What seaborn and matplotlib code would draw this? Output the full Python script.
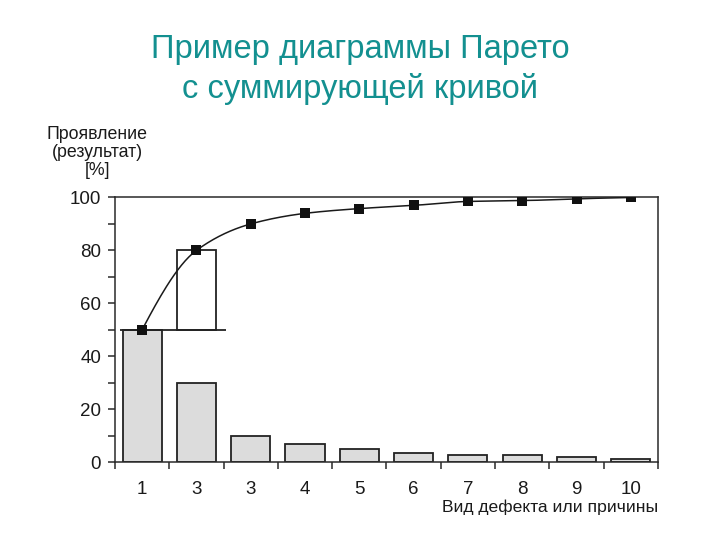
import numpy as np
import pandas as pd
import matplotlib
matplotlib.use("Agg")
import matplotlib.pyplot as plt
import seaborn as sns
from matplotlib.ticker import MultipleLocator, FixedLocator

# ---- data ----
tick_labels = ["1", "3", "3", "4", "5", "6", "7", "8", "9", "10"]
share = [50, 30, 10, 6.7, 4.9, 3.4, 2.7, 2.7, 2.0, 1.0]
cumulative = [50, 80, 90, 94, 95.8, 97, 98.5, 98.8, 99.5, 100]
y_ticks = [0, 20, 40, 60, 80, 100]

title = "Пример диаграммы Парето\nс суммирующей кривой"
ylabel = "Проявление\n(результат)\n[%]"
xlabel = "Вид дефекта или причины"

sns.set_theme(style="white")
plt.rcParams["font.family"] = ["Liberation Sans", "DejaVu Sans"]

fig = plt.figure(figsize=(7.2, 5.4), dpi=100)
ax = fig.add_axes([0.1597, 0.1444, 0.7542, 0.4899])

pos = list(range(len(share)))
df = pd.DataFrame({"pos": pos, "share": share, "cum": cumulative})

sns.barplot(data=df, x="pos", y="share", order=pos, color="#dcdcdc",
            saturation=1, width=0.72, edgecolor="#222222", linewidth=1.3, ax=ax)

# open box showing contribution of 2nd category on top of the 1st
ax.bar([1], [cumulative[1] - cumulative[0]], bottom=[cumulative[0]], width=0.72,
       color="white", edgecolor="#222222", linewidth=1.3, zorder=2)
ax.hlines(cumulative[0], -0.41, 1.55, color="#222222", linewidth=1.3, zorder=2)

# smooth cumulative curve (monotone cubic through the points, rendering only)
x = np.array(pos, dtype=float)
y = np.array(cumulative, dtype=float)
h = np.diff(x)
d = np.diff(y) / h
m = np.zeros_like(y)
m[0] = d[0] * 1.3
m[-1] = d[-1]
for i in range(1, len(y) - 1):
    if d[i - 1] * d[i] <= 0:
        m[i] = 0
    else:
        m[i] = 2 / (1 / d[i - 1] + 1 / d[i])
xs, ys = [], []
for i in range(len(x) - 1):
    t = np.linspace(0, 1, 30)
    h00 = 2 * t**3 - 3 * t**2 + 1
    h10 = t**3 - 2 * t**2 + t
    h01 = -2 * t**3 + 3 * t**2
    h11 = t**3 - t**2
    xs.extend(x[i] + t * h[i])
    ys.extend(h00 * y[i] + h10 * h[i] * m[i] + h01 * y[i + 1] + h11 * h[i] * m[i + 1])
sns.lineplot(x=xs, y=ys, color="#1a1a1a", linewidth=1.1, ax=ax, zorder=3, sort=False)
sns.scatterplot(x=pos, y=cumulative, marker="s", s=55, color="#111111",
                edgecolor="#111111", linewidth=0, ax=ax, zorder=4)

ax.set_xlim(-0.5, 9.5)
ax.set_ylim(0, 100)
ax.set_yticks(y_ticks)
ax.set_yticklabels([str(v) for v in y_ticks], fontsize=13.5, color="#1a1a1a")
ax.yaxis.set_minor_locator(MultipleLocator(10))
ax.set_xticks(pos)
ax.set_xticklabels(tick_labels, fontsize=13.5, color="#1a1a1a")
ax.xaxis.set_minor_locator(FixedLocator([p - 0.5 for p in pos] + [9.5]))
ax.tick_params(axis="y", which="both", direction="out", length=5, width=1.1,
               color="#2a2a2a", left=True, pad=5)
ax.tick_params(axis="x", which="major", length=0, pad=14)
ax.tick_params(axis="x", which="minor", direction="out", length=5, width=1.1,
               color="#2a2a2a", bottom=True)
for s in ax.spines.values():
    s.set_visible(True)
    s.set_color("#2a2a2a")
    s.set_linewidth(1.1)
ax.set_xlabel("")
ax.set_ylabel("")

fig.text(0.5, 0.937, title, ha="center", va="top", fontsize=23.5, color="#139090",
         linespacing=1.3)
fig.text(0.135, 0.767, ylabel, ha="center", va="top", fontsize=12.8, color="#1a1a1a",
         linespacing=1.08)
fig.text(0.9139, 0.047, xlabel, ha="right", va="bottom", fontsize=12.6, color="#1a1a1a")

fig.savefig("out.png", dpi=100)
